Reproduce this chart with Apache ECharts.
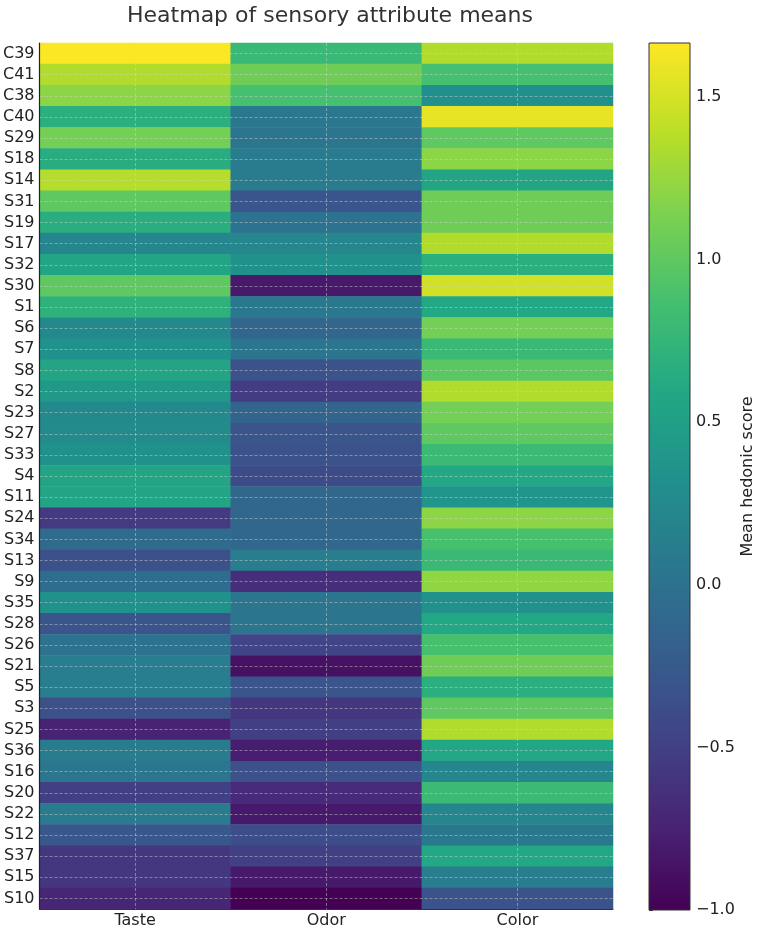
<!DOCTYPE html>
<html>
<head>
<meta charset="utf-8">
<script src="https://cdn.jsdelivr.net/npm/echarts@6/dist/echarts.min.js"></script>
<style>
  html, body { margin: 0; padding: 0; background: #fff; }
  #chart { width: 757px; height: 929px; }
</style>
</head>
<body>
<div id="chart"></div>
<script>
// rows top to bottom
const samples = ['C39', 'C41', 'C38', 'C40', 'S29', 'S18', 'S14', 'S31', 'S19', 'S17',
  'S32', 'S30', 'S1', 'S6', 'S7', 'S8', 'S2', 'S23', 'S27', 'S33',
  'S4', 'S11', 'S24', 'S34', 'S13', 'S9', 'S35', 'S28', 'S26', 'S21',
  'S5', 'S3', 'S25', 'S36', 'S16', 'S20', 'S22', 'S12', 'S37', 'S15', 'S10'];
const attributes = ['Taste', 'Odor', 'Color'];

const taste = [1.66, 1.35, 1.2, 0.68, 1.1, 0.65, 1.37, 1.0, 0.66, 0.22,
  0.56, 1.0, 0.7, 0.25, 0.35, 0.55, 0.43, 0.25, 0.27, 0.33,
  0.55, 0.55, -0.55, -0.07, -0.35, -0.05, 0.33, -0.3, 0.0, 0.12,
  0.12, -0.35, -0.75, 0.1, 0.05, -0.5, 0.1, -0.27, -0.58, -0.58, -0.72];
const odor = [0.78, 1.08, 0.87, 0.07, 0.05, 0.1, 0.1, -0.3, 0.0, 0.22,
  0.33, -0.82, 0.07, -0.13, 0.03, -0.33, -0.53, -0.15, -0.3, -0.33,
  -0.4, -0.12, -0.12, -0.12, 0.13, -0.65, 0.05, 0.05, -0.47, -0.88,
  -0.3, -0.58, -0.5, -0.78, -0.35, -0.68, -0.82, -0.38, -0.5, -0.82, -1.0];
const color = [1.35, 0.87, 0.32, 1.57, 1.0, 1.2, 0.55, 1.08, 1.08, 1.35,
  0.68, 1.48, 0.6, 1.1, 0.78, 0.98, 1.35, 1.1, 1.0, 0.8,
  0.6, 0.37, 1.2, 0.88, 0.78, 1.22, 0.33, 0.6, 0.88, 1.08,
  0.68, 1.0, 1.35, 0.58, 0.22, 0.8, 0.22, 0.07, 0.6, 0.13, -0.33];

const scaleMin = -1.0;
const scaleMax = 1.666;

const viridis = ['#440154', '#482475', '#414487', '#355f8d', '#2a788e', '#21918c',
  '#22a884', '#44bf70', '#7ad151', '#bddf26', '#fde725'];

const cols = [taste, odor, color];
const cells = [];
cols.forEach((vals, x) => {
  vals.forEach((v, y) => cells.push([x, y, v]));
});

const fontFamily = 'DejaVu Sans';
const minus = v => v.toFixed(1).replace('-', '\u2212');

const chart = echarts.init(document.getElementById('chart'));

chart.setOption({
  animation: false,
  textStyle: { fontFamily: fontFamily },
  title: {
    text: 'Heatmap of sensory attribute means',
    left: 325, textAlign: 'center', top: 0,
    textStyle: { fontFamily: fontFamily, fontSize: 22, fontWeight: 'normal', color: '#333' }
  },
  grid: [
    { left: 38, right: 144, top: 43, bottom: 19 },
    { left: 649, width: 43, top: 43, bottom: 19 }
  ],
  xAxis: [
    {
      type: 'category', data: attributes, gridIndex: 0, z: 10,
      axisLine: { lineStyle: { color: '#333', width: 1 } },
      axisTick: { alignWithLabel: true, length: 4, lineStyle: { color: '#333' } },
      axisLabel: { color: '#222', fontSize: 16, margin: 4 },
      splitLine: { show: true, alignWithLabel: true, lineStyle: { color: 'rgba(210,210,210,0.6)', type: [3, 2], width: 0.8 } }
    },
    { type: 'value', gridIndex: 1, min: 0, max: 1, show: false }
  ],
  yAxis: [
    {
      type: 'category', data: samples, gridIndex: 0, inverse: true, z: 10,
      axisLine: { lineStyle: { color: '#222', width: 1.2 } },
      axisTick: { alignWithLabel: true, length: 4, lineStyle: { color: '#333' } },
      axisLabel: { color: '#222', fontSize: 16, margin: 5, interval: 0 },
      splitLine: { show: true, alignWithLabel: true, lineStyle: { color: 'rgba(210,210,210,0.6)', type: [3, 2], width: 0.8 } }
    },
    {
      type: 'value', gridIndex: 1, position: 'right',
      min: scaleMin, max: scaleMax, interval: 0.5,
      axisLine: { show: false },
      axisTick: { show: true, length: 4, lineStyle: { color: '#333' } },
      axisLabel: { color: '#222', fontSize: 16, margin: 6, showMaxLabel: false, formatter: minus },
      splitLine: { show: false },
      name: 'Mean hedonic score', nameLocation: 'middle', nameRotate: 90, nameGap: 50,
      nameTextStyle: { color: '#222', fontSize: 16 }
    }
  ],
  visualMap: {
    type: 'continuous', show: false, seriesIndex: 0,
    min: scaleMin, max: scaleMax,
    inRange: { color: viridis }
  },
  series: [
    {
      type: 'heatmap', xAxisIndex: 0, yAxisIndex: 0,
      data: cells,
      itemStyle: { borderWidth: 0 },
      emphasis: { disabled: true }
    },
    {
      type: 'custom', xAxisIndex: 1, yAxisIndex: 1,
      data: [[0, scaleMin, scaleMax]],
      renderItem: (params, api) => {
        const p0 = api.coord([0, api.value(1)]);
        const p1 = api.coord([1, api.value(2)]);
        return {
          type: 'rect',
          shape: { x: p0[0], y: p1[1], width: p1[0] - p0[0], height: p0[1] - p1[1] },
          style: {
            fill: new echarts.graphic.LinearGradient(0, 0, 0, 1,
              viridis.slice().reverse().map((c, i) => ({ offset: i / (viridis.length - 1), color: c }))),
            stroke: '#333', lineWidth: 1
          }
        };
      }
    }
  ]
});
</script>
</body>
</html>
